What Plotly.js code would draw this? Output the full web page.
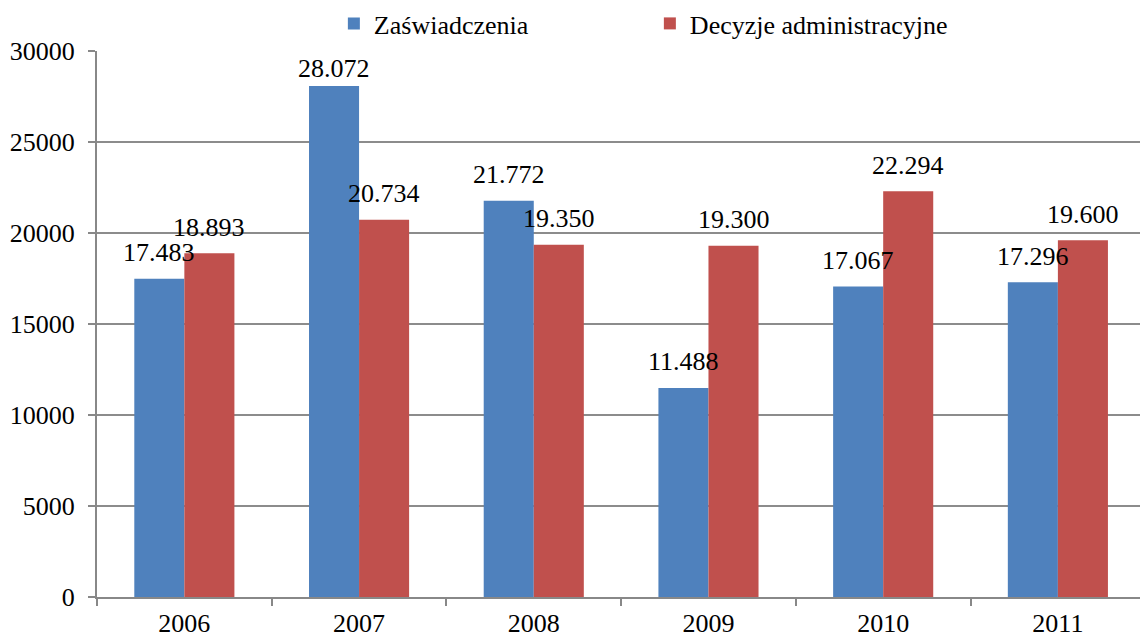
<!DOCTYPE html>
<html>
<head>
<meta charset="utf-8">
<script src="https://cdn.plot.ly/plotly-3.0.1.min.js"></script>
<style>html,body{margin:0;padding:0;background:#fff;}#chart{width:1140px;height:639px;}</style>
</head>
<body>
<div id="chart"></div>
<script>
const years = ['2006', '2007', '2008', '2009', '2010', '2011'];
const zaswiadczenia = [17483, 28072, 21772, 11488, 17067, 17296];
const decyzje = [18893, 20734, 19350, 19300, 22294, 19600];
const seriesNames = ['Zaświadczenia', 'Decyzje administracyjne'];
const yTicks = [0, 5000, 10000, 15000, 20000, 25000, 30000];

const FONT = '"Liberation Serif", "Times New Roman", serif';
const FS = 26;
const W = 1140, H = 639;
const margin = {l: 97, r: 0, t: 50, b: 42};
const plotH = H - margin.t - margin.b;
const yMax = 30000;
const pxPerUnit = plotH / yMax;
const bargap = 0.427;
const barW = (1 - bargap) / 2;

function fmt(v) {
  return String(v).replace(/\B(?=(\d{3})+(?!\d))/g, '.');
}

const annotations = [];
[zaswiadczenia, decyzje].forEach((vals, s) => {
  vals.forEach((v, i) => {
    const room = (yMax - v) * pxPerUnit - 18;
    annotations.push({
      x: i + (s === 0 ? -barW / 2 : barW / 2),
      y: v,
      xref: 'x', yref: 'y',
      text: fmt(v),
      showarrow: false,
      yanchor: 'middle',
      xanchor: 'center',
      yshift: Math.min(26, room),
      font: {family: FONT, size: FS, color: '#000'}
    });
  });
});

const traces = [
  {type: 'bar', x: years, y: zaswiadczenia, name: seriesNames[0], marker: {color: '#4F81BD'}},
  {type: 'bar', x: years, y: decyzje, name: seriesNames[1], marker: {color: '#C0504D'}}
];

const layout = {
  width: W, height: H,
  margin: margin,
  paper_bgcolor: '#fff', plot_bgcolor: '#fff',
  font: {family: FONT, size: FS, color: '#000'},
  barmode: 'group',
  bargap: bargap,
  bargroupgap: 0,
  showlegend: true,
  legend: {
    orientation: 'h',
    x: 0.2271, xanchor: 'left',
    y: 1.051, yanchor: 'middle',
    entrywidth: 271,
    font: {family: FONT, size: FS, color: '#000'},
    bgcolor: 'rgba(0,0,0,0)'
  },
  xaxis: {
    type: 'category',
    range: [-0.5, 5.47],
    tickson: 'boundaries',
    ticks: 'outside', ticklen: 7, tickwidth: 2, tickcolor: '#888',
    showline: true, linecolor: '#888', linewidth: 2,
    showgrid: false,
    ticklabelstandoff: 2,
    tickfont: {family: FONT, size: FS, color: '#000'},
    fixedrange: true
  },
  yaxis: {
    range: [0, yMax],
    tickvals: yTicks,
    ticktext: yTicks.map(String),
    ticks: 'outside', ticklen: 7, tickwidth: 2, tickcolor: '#888',
    showline: true, linecolor: '#888', linewidth: 2,
    showgrid: true, gridcolor: '#8c8c8c', gridwidth: 1.5,
    zeroline: false,
    ticklabelstandoff: 8,
    tickfont: {family: FONT, size: FS, color: '#000'},
    fixedrange: true
  },
  annotations: annotations
};

Plotly.newPlot('chart', traces, layout, {displayModeBar: false, staticPlot: true});
</script>
</body>
</html>
